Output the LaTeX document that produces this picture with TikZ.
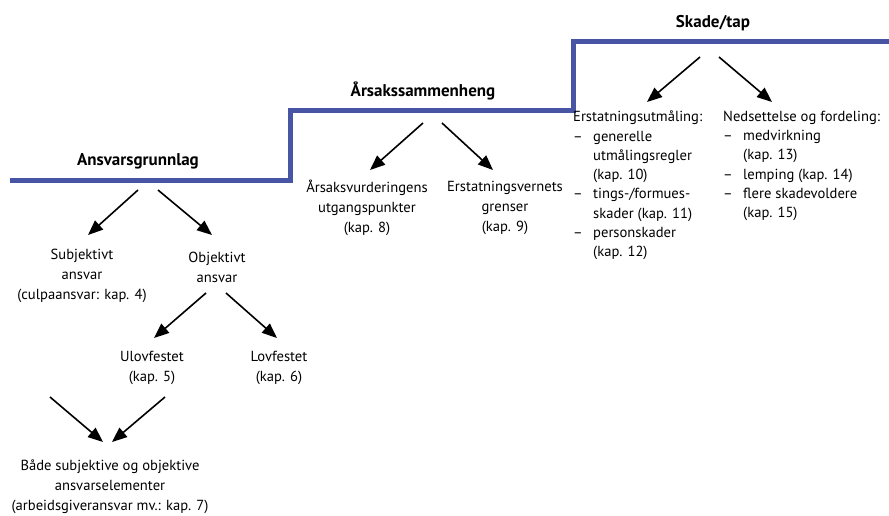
\documentclass[tikz,border=0pt]{standalone}
\usepackage{fontspec}
\setmainfont{PT Sans}
\usetikzlibrary{arrows.meta,positioning}
\definecolor{trappeblaa}{RGB}{72,84,164}
\newcommand\strek{\makebox[20pt][l]{–}}
\newcommand\inn{\hspace*{20pt}}

\begin{document}
\begin{tikzpicture}[x=1pt,y=-1pt,
  tekst/.style={align=center,inner sep=0pt,font=\fontsize{14.6}{19.8}\selectfont},
  tittel/.style={inner sep=0pt,font=\fontsize{17}{20}\selectfont\bfseries},
  liste/.style={align=left,inner sep=0pt,font=\fontsize{14.6}{19.3}\selectfont},
  pil/.style={-{Triangle[length=15pt,width=12pt]},line width=1.6pt}]
\useasboundingbox (0,0) rectangle (889,515);
% trappen
\draw[trappeblaa,line width=5pt] (10,180) -- (290,180) -- (290,110.5) -- (573,110.5) -- (573,41) -- (889,41);
% titler
\node[tittel] (ansvar) at (138,161) {Ansvarsgrunnlag};
\node[tittel] (aarsak) at (423,91) {Årsakssammenheng};
\node[tittel] (skade) at (713,23) {Skade/tap};
% ansvarsgrunnlag
\node[tekst] (subj) at (82,276) {Subjektivt\\ansvar\\(culpaansvar: kap. 4)};
\node[tekst] (obj) at (217,267) {Objektivt\\ansvar};
\node[tekst] (ulov) at (152,368) {Ulovfestet\\(kap. 5)};
\node[tekst] (lov) at (279,368) {Lovfestet\\(kap. 6)};
\node[tekst] (begge) at (110,487) {Både subjektive og objektive\\ansvarselementer\\(arbeidsgiveransvar mv.: kap. 7)};
% årsakssammenheng
\node[tekst] (utgang) at (367,208) {Årsaksvurderingens\\utgangspunkter\\(kap. 8)};
\node[tekst] (grenser) at (505,208) {Erstatningsvernets\\grenser\\(kap. 9)};
% skade/tap
\node[liste,anchor=west] (utmaaling) at (573,185.5) {Erstatningsutmåling:\\\strek generelle\\\inn utmålingsregler\\\inn (kap. 10)\\\strek tings-/formues-\\\inn skader (kap. 11)\\\strek personskader\\\inn (kap. 12)};
\node[liste,anchor=west] (nedsett) at (723,166) {Nedsettelse og fordeling:\\\strek medvirkning\\\inn (kap. 13)\\\strek lemping (kap. 14)\\\strek flere skadevoldere\\\inn (kap. 15)};
% piler
\coordinate (ansvar-v) at (138,190);
\coordinate (ansvar-h) at (158,190);
\coordinate (subj-t) at (88,235);
\coordinate (obj-t) at (212,235);
\coordinate (obj-v) at (206,293);
\coordinate (obj-h) at (226,293);
\coordinate (ulov-t) at (154,338);
\coordinate (lov-t) at (277,338);
\coordinate (subj-b) at (50,397);
\coordinate (ulov-b) at (165,397);
\coordinate (begge-v) at (103,442);
\coordinate (begge-h) at (112,442);
\coordinate (aarsak-v) at (423,123);
\coordinate (aarsak-h) at (442,123);
\coordinate (utgang-t) at (370,170);
\coordinate (grenser-t) at (493,170);
\coordinate (skade-v) at (700,57);
\coordinate (skade-h) at (719,57);
\coordinate (utmaaling-t) at (647,102);
\coordinate (nedsett-t) at (772,102);
\draw[pil] (ansvar-v) -- (subj-t);
\draw[pil] (ansvar-h) -- (obj-t);
\draw[pil] (obj-v) -- (ulov-t);
\draw[pil] (obj-h) -- (lov-t);
\draw[pil] (subj-b) -- (begge-v);
\draw[pil] (ulov-b) -- (begge-h);
\draw[pil] (aarsak-v) -- (utgang-t);
\draw[pil] (aarsak-h) -- (grenser-t);
\draw[pil] (skade-v) -- (utmaaling-t);
\draw[pil] (skade-h) -- (nedsett-t);
\end{tikzpicture}
\end{document}
